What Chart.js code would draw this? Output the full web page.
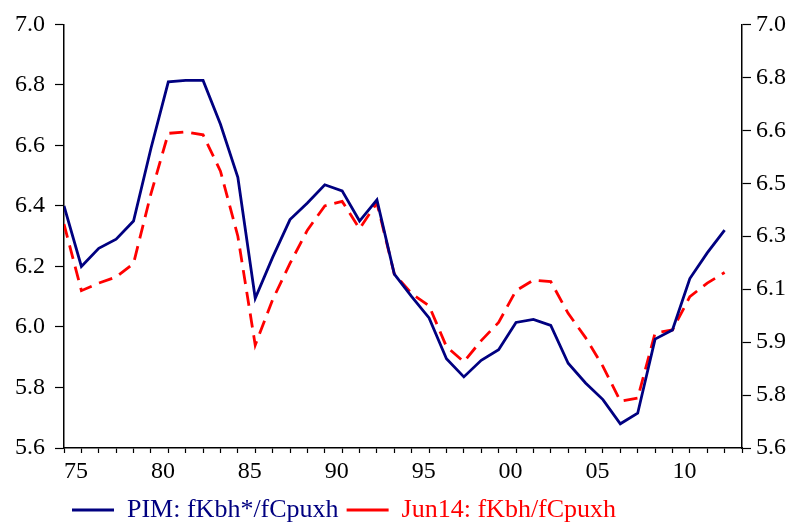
<!DOCTYPE html>
<html lang="en">

<head>
  <meta charset="UTF-8">
  <title>PIM vs Jun14</title>
  <script src="https://cdn.jsdelivr.net/npm/chart.js"></script>
  <style>
    html, body { margin: 0; padding: 0; background: #fff; }
    #wrap { width: 792px; height: 524px; }
  </style>
</head>

<body>
  <div id="wrap"><canvas id="ratioChart"></canvas></div>

  <script>
    // years, one point per year
    var years = [1975, 1976, 1977, 1978, 1979, 1980, 1981, 1982, 1983, 1984,
      1985, 1986, 1987, 1988, 1989, 1990, 1991, 1992, 1993, 1994,
      1995, 1996, 1997, 1998, 1999, 2000, 2001, 2002, 2003, 2004,
      2005, 2006, 2007, 2008, 2009, 2010, 2011, 2012, 2013];

    // PIM: fKbh*/fCpuxh (left scale)
    var pimRatio = [6.40, 6.20, 6.26, 6.29, 6.35, 6.59, 6.81, 6.815, 6.815, 6.67,
      6.495, 6.095, 6.23, 6.355, 6.41, 6.47, 6.45, 6.35, 6.42, 6.175,
      6.10, 6.03, 5.895, 5.835, 5.89, 5.925, 6.015, 6.025, 6.005, 5.88,
      5.815, 5.76, 5.68, 5.715, 5.96, 5.99, 6.16, 6.245, 6.32];

    // Jun14: fKbh/fCpuxh
    var jun14Ratio = [6.34, 6.12, 6.145, 6.165, 6.21, 6.44, 6.64, 6.645, 6.635, 6.515,
      6.30, 5.94, 6.09, 6.21, 6.32, 6.40, 6.415, 6.325, 6.41, 6.175,
      6.11, 6.07, 5.935, 5.885, 5.955, 6.015, 6.12, 6.155, 6.15, 6.045,
      5.965, 5.87, 5.755, 5.765, 5.98, 5.99, 6.10, 6.145, 6.18];

    // right-hand axis labels, as printed
    var rightTickLabels = ['5.6', '5.8', '5.9', '6.1', '6.3', '6.5', '6.6', '6.8', '7.0'];

    var serif = "'Liberation Serif', 'Times New Roman', serif";

    const ctx = document.getElementById('ratioChart').getContext('2d');
    new Chart(ctx, {
      type: 'line',
      data: {
        labels: years,
        datasets: [{
          label: 'PIM: fKbh*/fCpuxh',
          data: pimRatio,
          borderColor: '#000080',
          borderWidth: 2.8,
          pointRadius: 0,
          tension: 0,
          yAxisID: 'y',
        }, {
          label: 'Jun14: fKbh/fCpuxh',
          data: jun14Ratio,
          borderColor: '#ff0000',
          borderWidth: 2.8,
          borderDash: [14, 8],
          pointRadius: 0,
          tension: 0,
          yAxisID: 'y',
        }],
      },
      options: {
        responsive: true,
        maintainAspectRatio: false,
        animation: false,
        layout: { padding: { left: 5, right: 1, top: 23, bottom: -9 } },
        plugins: {
          tooltip: { enabled: false },
          legend: {
            position: 'bottom',
            align: 'start',
            fullSize: false,
            labels: {
              font: { family: serif, size: 26 },
              usePointStyle: true,
              pointStyle: 'line',
              pointStyleWidth: 42,
              padding: 8,
              generateLabels: function (chart) {
                var items = Chart.defaults.plugins.legend.labels.generateLabels(chart);
                items.forEach(function (it, i) {
                  it.fontColor = chart.data.datasets[i].borderColor;
                });
                return items;
              },
            },
          },
        },
        scales: {
          x: {
            type: 'linear',
            min: 1975,
            max: 2014,
            afterFit: function (scale) { scale.height = 41; },
            border: { color: '#000', width: 1.5 },
            grid: { drawOnChartArea: false, tickLength: 5, color: '#000', tickWidth: 1.2 },
            ticks: {
              stepSize: 1,
              autoSkip: false,
              maxRotation: 0,
              align: 'start',
              padding: 7,
              color: '#000',
              font: { family: serif, size: 24, lineHeight: 1.0 },
              callback: function (v) {
                if (v % 5 !== 0) return '';
                return String(v % 100).padStart(2, '0');
              },
            },
          },
          y: {
            position: 'left',
            min: 5.6,
            max: 7.0,
            border: { color: '#000', width: 1.5 },
            grid: { drawOnChartArea: false, tickLength: 9, color: '#000', tickWidth: 1.2 },
            ticks: {
              stepSize: 0.2,
              padding: 10,
              color: '#000',
              font: { family: serif, size: 24 },
              callback: function (v) { return v.toFixed(1); },
            },
          },
          y1: {
            position: 'right',
            min: 5.6,
            max: 7.0,
            border: { color: '#000', width: 1.5 },
            grid: { drawOnChartArea: false, tickLength: 9, color: '#000', tickWidth: 1.2 },
            ticks: {
              stepSize: 0.175,
              padding: 5,
              color: '#000',
              font: { family: serif, size: 24 },
              callback: function (v, i) { return rightTickLabels[i]; },
            },
          },
        },
      },
    });
  </script>
</body>

</html>
